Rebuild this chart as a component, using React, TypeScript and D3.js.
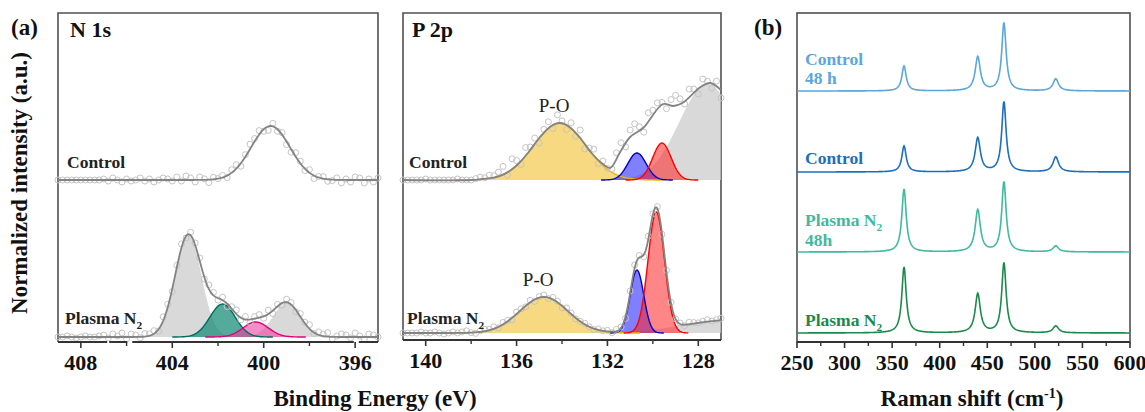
import React, { useEffect, useRef } from "react";
import * as d3 from "d3";

// ---- N 1s ----
const n1sDomain = [409, 395];
const n1sTicks = [408, 404, 400, 396];
const n1sMinor = [406, 402, 398];
const n1sAxisPieces = [[409, 406.85], [406.76, 405.97], [405.75, 396.06], [395.84, 395]];
const n1sControlPeaks = [{ c: 399.7, h: 0.54, w: 2.0, kind: "none" }];
const n1sPlasmaPeaks = [
  { c: 403.3, h: 1.02, w: 1.35, kind: "gray" },
  { c: 399.0, h: 0.34, w: 1.4, kind: "gray" },
  { c: 401.8, h: 0.33, w: 1.3, kind: "teal" },
  { c: 400.35, h: 0.15, w: 1.3, kind: "pink" },
];
// raw points: offset from the fit (x0.01), one every 0.2 eV from the left edge
const n1sControlRaw = [
  0, 0, 0, 0, 0, 0, 0, 0, 0, 0,
  1, -1, 2, 0, -2, 1, -1, 0, 2, -1, 1, -2, 0, 2, 1, -1,
  3, -1, 4, 2, -2, 3, 1, -3, 2, 0,
  2, -2, 3, 4, -3, 2, 5, 3, 4, -2, -4, 3, -2, 2, -3,
  -3, 4, 2, -2, 3, -3, 1, 2, -2, -1, 2, -3, 1, -2, 3, 2, -3, 1, -2, 2,
];
const n1sPlasmaRaw = [
  0, 0, 1, 0, -1, 0, 1, 0, 0, 1,
  2, -1, 3, 1, 4, -2, 3, 2, -1, 3,
  2, 3, -2, 4, 3, -3, 2, 4, -2, 3, 2, 3, -2, 4, 3, -2,
  3, -3, 2, 4, -2, 3, -3, 2, 3, -2, 4, -3, 2, -2, 3,
  2, -2, 3, 1, 4, -1, 3, 2, 4, -2, 1, 3, 2, -1, 4, 1, -2, 3, 2, 0,
];

// ---- P 2p ----
const p2pDomain = [141, 127];
const p2pTicks = [140, 136, 132, 128];
const p2pMinor = [138, 134, 130];
const p2pControlPeaks = [
  { c: 127.6, h: 0.96, w: 2.9, kind: "gray" },
  { c: 134.1, h: 0.57, w: 2.7, kind: "gold" },
  { c: 130.7, h: 0.27, w: 0.95, kind: "blue" },
  { c: 129.6, h: 0.37, w: 0.95, kind: "red" },
];
const p2pControlEnvBE = [141, 138, 137.5, 137, 136.5, 136, 135.5, 135, 134.5, 134.1, 133.7, 133.2, 132.7, 132.2, 131.88, 131.44, 131.0, 130.43, 129.55, 129.1, 128.7, 127.9, 127.48, 127.0];
const p2pControlEnvI = [0, 0, 0.01, 0.023, 0.064, 0.145, 0.27, 0.42, 0.536, 0.57, 0.536, 0.42, 0.27, 0.16, 0.12, 0.28, 0.43, 0.52, 0.76, 0.74, 0.77, 0.93, 0.97, 0.9];
const p2pPlasmaPeaks = [
  { c: 126.5, h: 0.13, w: 5.0, kind: "gray" },
  { c: 134.8, h: 0.36, w: 2.5, kind: "gold" },
  { c: 130.7, h: 0.63, w: 0.7, kind: "blue" },
  { c: 129.85, h: 1.21, w: 0.85, kind: "red" },
];
const p2pControlRaw = [
  0, 0, 0, 0, 0, 1, 0, 0, 0, 0, 0, 0, 1, 0, 0, 0,
  1, 2, 1, 3, 2,
  4, 8, -3, 10, 5, -4, 8, 3, 6, -5, 4, 7, -3, 9, 3,
  -4, 6, -3, 8, -5, 2, 6, -4, 3, -2,
  -4, 5, 8, -3, 7, 10, 4, -5, 9, 6,
  8, 3, -4, 6, 10, 5, -3, 8, 4, -5, 7, 3, -4, 6, -8,
];
const p2pPlasmaRaw = [
  0, 0, 0, 0, 1, 0, 0, 1, 0, -1, 0, 1, 0, 1, 2, 0, -1, 1, 2, 1,
  2, -1, 2, 1, -2, 2, 1, -1, 2, -2, 1, 2, -1, 2, 1, -2, 2, 1, -1, 0,
  1, 0, -1, 1, 0, 1, -1, 2, 1, -2, 2, 3, 2, -2, 3, 1, 2, -1, 2, 1,
  0, 1, -1, 2, 1, 0, 1, 2, 0, 1, 2,
];

// ---- Raman ----
const ramanDomain = [250, 600];
const ramanTicks = [250, 300, 350, 400, 450, 500, 550, 600];
const ramanPeakPos = [362.5, 440, 467.5, 522];
const ramanPeakWidth = [5.5, 6.5, 5.5, 7];
const ramanNames = ["Control|48 h", "Control", "Plasma N2|48h", "Plasma N2"];
const ramanColors = ["#5ba7da", "#1b6fbe", "#3dbb9c", "#1a8a4b"];
const ramanHeights = [
  [0.25, 0.34, 0.68, 0.12],
  [0.26, 0.34, 0.7, 0.15],
  [0.63, 0.42, 0.7, 0.06],
  [0.66, 0.39, 0.7, 0.07],
];

const kindStyle: Record<string, { fill: string; op: number; stroke: string }> = {
  none: { fill: "none", op: 0, stroke: "none" },
  gray: { fill: "#c9c9c9", op: 0.7, stroke: "none" },
  teal: { fill: "#128a76", op: 0.72, stroke: "#006b5a" },
  pink: { fill: "#ec3f9f", op: 0.6, stroke: "#e4007f" },
  gold: { fill: "#f2cb50", op: 0.72, stroke: "#e6b400" },
  blue: { fill: "#2a2aff", op: 0.6, stroke: "#0000d0" },
  red: { fill: "#ff2222", op: 0.55, stroke: "#ff0000" },
};

const FONT = "'Liberation Serif', 'Times New Roman', Times, serif";

const gauss = (x: number, p: any) => p.h * Math.exp(-4 * Math.LN2 * ((x - p.c) / p.w) ** 2);
const lorentz = (x: number, c: number, h: number, w: number) => h / (1 + ((x - c) / (w / 2)) ** 2);

function addLabel(g: any, x: number, y: number, text: string, size: number, color: string) {
  const t = g.append("text").attr("x", x).attr("y", y)
    .style("font-family", FONT).attr("font-weight", "bold")
    .attr("font-size", size).attr("fill", color);
  if (text.endsWith("N2")) {
    t.append("tspan").text(text.slice(0, -1));
    t.append("tspan").attr("dy", size * 0.28).attr("font-size", size * 0.65).text("2");
  } else t.text(text);
}

function drawSpectrum(g: any, x: any, y: any, peaks: any[], raw: number[], dom: number[], env?: number[][]) {
  const grid = d3.range(dom[0], dom[1] - 0.001, -0.04);
  const sum = (b: number) => d3.sum(peaks, (p) => gauss(b, p));
  const envAt = env ? d3.scaleLinear(env[0], env[1]) : sum;

  const area = d3.area<number[]>().x((d) => x(d[0])).y0(y(0)).y1((d) => y(d[1]));
  const line = d3.line<number[]>().x((d) => x(d[0])).y((d) => y(d[1]));

  // component fills then outlines
  peaks.forEach((p) => {
    const s = kindStyle[p.kind];
    if (s.fill === "none") return;
    const pts = grid.filter((b) => Math.abs(b - p.c) < p.w * 2.1).map((b) => [b, gauss(b, p)]);
    g.append("path").attr("d", area(pts)).attr("fill", s.fill).attr("fill-opacity", s.op);
  });
  peaks.forEach((p) => {
    const s = kindStyle[p.kind];
    if (s.stroke === "none") return;
    const pts = grid.filter((b) => Math.abs(b - p.c) < p.w * 1.7).map((b) => [b, gauss(b, p)]);
    g.append("path").attr("d", line(pts)).attr("fill", "none").attr("stroke", s.stroke).attr("stroke-width", 1.4);
  });

  // raw data circles
  raw.forEach((o, i) => {
    const b = dom[0] - 0.2 * i;
    g.append("circle").attr("cx", x(b)).attr("cy", y((envAt as any)(b) + o / 100)).attr("r", 3)
      .attr("fill", "none").attr("stroke", "#c4c4c4").attr("stroke-width", 1);
  });

  // envelope
  let envPts: number[][];
  if (env) envPts = env[0].map((b, i) => [b, env[1][i]]);
  else envPts = grid.map((b) => [b, sum(b)]);
  g.append("path")
    .attr("d", line.curve(env ? d3.curveCatmullRom : d3.curveLinear)(envPts))
    .attr("fill", "none").attr("stroke", "#838383").attr("stroke-width", 1.8);
}

function bottomAxis(g: any, x: any, y0: number, ticks: number[], minor: number[], pieces?: number[][]) {
  const dom = x.domain();
  const segs = pieces || [dom];
  segs.forEach((s) => {
    g.append("line").attr("x1", x(s[0])).attr("x2", x(s[1])).attr("y1", y0).attr("y2", y0)
      .attr("stroke", "#333").attr("stroke-width", 2);
  });
  ticks.forEach((t) => {
    g.append("line").attr("x1", x(t)).attr("x2", x(t)).attr("y1", y0).attr("y2", y0 + 6)
      .attr("stroke", "#333").attr("stroke-width", 1.6);
    g.append("text").attr("x", x(t)).attr("y", y0 + 28).attr("text-anchor", "middle")
      .style("font-family", FONT).attr("font-weight", "bold").attr("font-size", 22).attr("fill", "#111").text(t);
  });
  minor.forEach((t) => {
    g.append("line").attr("x1", x(t)).attr("x2", x(t)).attr("y1", y0).attr("y2", y0 + 4)
      .attr("stroke", "#333").attr("stroke-width", 1.4);
  });
}

function frame(g: any, l: number, r: number, t: number, b: number) {
  g.append("path").attr("d", `M${l},${b}V${t}H${r}V${b}`).attr("fill", "none")
    .attr("stroke", "#505050").attr("stroke-width", 1.6);
}

export default function App() {
  const ref = useRef<SVGSVGElement>(null);

  useEffect(() => {
    const svg = d3.select(ref.current);
    svg.selectAll("*").remove();
    const g = svg.append("g");

    // ---- N 1s panel ----
    const xN = d3.scaleLinear().domain(n1sDomain).range([58, 378]);
    const yNc = d3.scaleLinear().domain([0, 1]).range([180, 80]);
    const yNp = d3.scaleLinear().domain([0, 1]).range([337, 237]);
    frame(g, 58, 378, 13, 342);
    drawSpectrum(g, xN, yNc, n1sControlPeaks, n1sControlRaw, n1sDomain);
    drawSpectrum(g, xN, yNp, n1sPlasmaPeaks, n1sPlasmaRaw, n1sDomain);
    bottomAxis(g, xN, 342, n1sTicks, n1sMinor, n1sAxisPieces);
    addLabel(g, 70, 37, "N 1s", 22, "#111");
    addLabel(g, 67, 168, "Control", 17.5, "#222");
    addLabel(g, 65, 324, "Plasma N2", 17.5, "#222");

    // ---- P 2p panel ----
    const xP = d3.scaleLinear().domain(p2pDomain).range([403, 721]);
    const yPc = d3.scaleLinear().domain([0, 1]).range([180, 80]);
    const yPp = d3.scaleLinear().domain([0, 1]).range([333, 233]);
    frame(g, 403, 721, 13, 340);
    drawSpectrum(g, xP, yPc, p2pControlPeaks, p2pControlRaw, p2pDomain, [p2pControlEnvBE, p2pControlEnvI]);
    drawSpectrum(g, xP, yPp, p2pPlasmaPeaks, p2pPlasmaRaw, p2pDomain);
    bottomAxis(g, xP, 340, p2pTicks, p2pMinor);
    addLabel(g, 412, 37, "P 2p", 22, "#111");
    addLabel(g, 409, 168, "Control", 17.5, "#222");
    addLabel(g, 407, 324, "Plasma N2", 17.5, "#222");
    [[p2pControlPeaks[1], yPc], [p2pPlasmaPeaks[1], yPp]].forEach(([p, yy]: any) => {
      g.append("text").attr("x", xP(p.c + 0.25)).attr("y", yy(p.h) - 11).attr("text-anchor", "middle")
        .style("font-family", FONT).attr("font-size", 19).attr("fill", "#222").text("P-O");
    });

    // ---- Raman panel ----
    const xR = d3.scaleLinear().domain(ramanDomain).range([797, 1130]);
    const yR = d3.scaleLinear().domain([0, 1]).range([333, 233]);
    const stack = [2.42, 1.61, 0.81, 0];
    g.append("rect").attr("x", 797).attr("y", 13).attr("width", 333).attr("height", 329)
      .attr("fill", "none").attr("stroke", "#505050").attr("stroke-width", 1.6);
    const grid = d3.range(ramanDomain[0], ramanDomain[1] + 0.01, 0.5);
    const rline = d3.line<number[]>().x((d) => xR(d[0])).y((d) => yR(d[1]));
    ramanHeights.forEach((hs, si) => {
      const pts = grid.map((w) => [w, stack[si] + d3.sum(ramanPeakPos, (c, k) => lorentz(w, c, hs[k], ramanPeakWidth[k]))]);
      g.append("path").attr("d", rline(pts)).attr("fill", "none")
        .attr("stroke", ramanColors[si]).attr("stroke-width", 1.6);
    });
    const labelY = [[65, 84], [164], [226, 246], [326]];
    ramanNames.forEach((n, i) => {
      n.split("|").forEach((part, j) => addLabel(g, 805, labelY[i][j], part, 17.5, ramanColors[i]));
    });
    bottomAxis(g, xR, 342, ramanTicks, d3.range(275, 600, 50));

    // ---- titles ----
    addLabel(g, 11, 35, "(a)", 23, "#111");
    addLabel(g, 754, 35, "(b)", 23, "#111");
    g.append("text").attr("transform", "translate(27,183) rotate(-90)").attr("text-anchor", "middle")
      .style("font-family", FONT).attr("font-weight", "bold").attr("font-size", 23).attr("fill", "#111")
      .text("Normalized intensity (a.u.)");
    g.append("text").attr("x", 375).attr("y", 406).attr("text-anchor", "middle")
      .style("font-family", FONT).attr("font-weight", "bold").attr("font-size", 23).attr("fill", "#111")
      .text("Binding Energy (eV)");
    const rt = g.append("text").attr("x", 972).attr("y", 406).attr("text-anchor", "middle")
      .style("font-family", FONT).attr("font-weight", "bold").attr("font-size", 23).attr("fill", "#111");
    rt.append("tspan").text("Raman shift (cm");
    rt.append("tspan").attr("dy", -8).attr("font-size", 14).text("-1");
    rt.append("tspan").attr("dy", 8).text(")");
  }, []);

  return (
    <svg ref={ref} width={1145} height={412}
      style={{ position: "absolute", left: 0, top: 0, background: "#fff" }} />
  );
}
